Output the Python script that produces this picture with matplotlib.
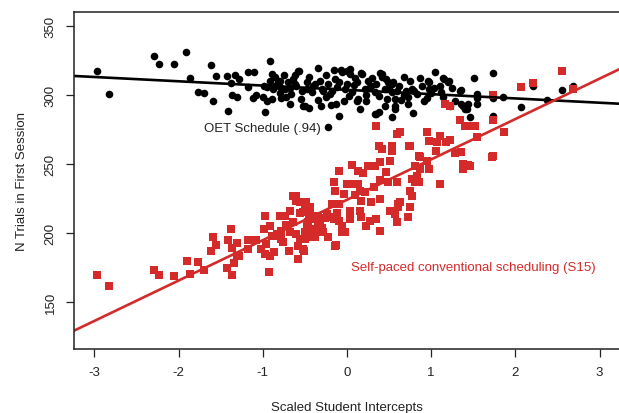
import numpy as np
import matplotlib
matplotlib.use("Agg")
import matplotlib.pyplot as plt

plt.rcParams['font.family'] = ['Liberation Sans', 'DejaVu Sans']

# ---- data ----
oet_x = [-2.97, -2.83, -2.29, -2.23, -2.06, -1.91, -1.87, -1.77, -1.70, -1.61, -1.59, -1.56,
         -1.41, -1.43, -1.38, -1.37, -1.31, -1.33, -1.28, -1.17, -1.10, -1.17, -1.12, -1.08,
         -0.97, -0.92, -0.89, -0.86, -0.99, -0.91, -0.86, -0.80, -0.95, -0.88, -0.80, -0.74,
         -0.95, -0.89, -0.78, -0.72, -0.58, -0.52, -0.68, -0.35, -0.16, -0.07, 0.04, 0.17,
         0.39, 0.46, 0.54, 0.75, 0.87, 0.96, 1.05, 1.15, 1.21, 1.35, 1.51, 1.74, 1.55, 1.73,
         1.85, 2.07, 2.21, 2.37, 2.55, 2.68, 1.46, 1.73, -0.09, -0.23, 0.35, 0.38, 0.53, 0.78,
         1.22, 1.38, 1.42, 1.54, 0.72, 0.95, 1.14, -0.50, -0.31, -0.19, -0.13, -0.03, 0.13,
         0.23, 0.48, 0.57, -0.57, -0.06, 0.00, 0.04, 0.18, 0.41, -0.70, -0.62, -0.48, -0.32,
         -0.22, -0.10, 0.12, 0.25, 0.35, 0.49, -0.66, -0.54, -0.42, -0.30, -0.18, -0.02, 0.06,
         0.21, 0.33, 0.45, 0.53, -0.68, -0.45, 0.12, 0.45, 0.33, 0.55, 0.59, 0.57, 0.57, 0.77,
         0.73, 0.89, 0.83, 0.91, 0.97, 0.97, 1.10, 1.14, 1.20, 1.12, 1.28, 1.34, 1.36, 1.40,
         1.44, 1.54, -0.62, -0.45, -0.25, -0.40, -0.12, 0.08, 0.28, 0.62, 0.68, 0.30, -0.55,
         -0.25, 0.02, 0.38, 0.68, -0.80, -1.00, -0.75, 1.00, 1.25, 0.15, -0.35,
         -0.64, -0.38, -0.14, 0.10, 0.26, 0.50, 0.80, -0.82, -0.47, -0.20, 0.22, 0.64, 1.03,
         -0.60, -0.28, 0.00, 0.42, 0.70]
oet_y = [317.4, 300.3, 328.2, 322.2, 322.2, 331.1, 312.1, 302.2, 301.2, 321.5, 295.4, 313.3,
         288.2, 313.3, 308.5, 300.0, 298.3, 314.5, 311.4, 316.2, 316.2, 305.4, 297.4, 300.0,
         287.3, 324.4, 315.0, 306.5, 306.5, 310.1, 312.6, 310.1, 305.4, 304.1, 305.4, 304.1,
         295.7, 296.9, 297.4, 298.1, 317.4, 292.0, 304.6, 319.3, 318.1, 317.6, 318.6, 315.7,
         315.7, 311.4, 307.7, 310.1, 311.9, 310.1, 316.6, 311.4, 309.7, 303.6, 312.1, 315.5,
         297.6, 297.6, 298.6, 291.3, 306.5, 296.4, 303.6, 306.1, 283.7, 284.4, 284.4, 276.4,
         286.0, 287.3, 283.7, 286.5, 292.0, 292.0, 289.7, 293.3, 293.3, 297.4, 298.1, 291.6,
         291.6, 292.6, 293.3, 295.7, 296.9, 295.7, 296.9, 292.0, 317.4, 316.2, 317.4, 315.0,
         315.0, 315.0, 309.0, 307.7, 309.0, 310.1, 307.7, 309.0, 309.0, 310.1, 307.7, 309.0,
         300.5, 302.9, 301.7, 304.1, 302.9, 304.1, 301.7, 304.1, 301.7, 304.1, 301.7, 293.3,
         290.5, 295.7, 292.0, 286.0, 309.0, 302.9, 296.9, 289.7, 304.1, 298.1, 306.5, 300.5,
         295.7, 309.4, 304.1, 306.5, 311.9, 309.4, 301.7, 295.7, 302.9, 293.3, 289.7, 293.3,
         300.5, 314.0, 313.0, 314.0, 306.0, 305.5, 307.0, 306.0, 306.0, 313.0, 312.0, 297.0,
         298.0, 299.0, 299.0, 300.0, 301.0, 298.0, 314.0, 301.0, 305.0, 290.0, 296.0,
         311.0, 308.0, 311.5, 312.0, 304.5, 305.5, 302.5, 309.0, 304.0, 300.5, 300.0, 296.0, 305.0,
         306.0, 303.0, 307.5, 313.0, 303.0]

sp_x = [-2.97, -2.83, -2.29, -2.23, -2.06, -1.90, -1.87, -1.77, -1.70, -1.61, -1.59, -1.56,
        -1.43, -1.41, -1.38, -1.37, -1.34, -1.36, -1.31, -1.28, -1.17, -1.17, -1.12, -1.08,
        -1.02, -0.99, -0.97, -0.96, -0.97, -0.93, -0.92, -0.91, -0.87, -0.85, -0.80, -0.78,
        -0.76, -0.78, -0.74, -0.69, -0.68, -0.68, -0.58, -0.58, -0.60, -0.56, -0.51, -0.50,
        -0.48, -0.44, -0.42, -0.38, -0.34, -0.61, -0.56, -0.49, -0.89, -0.83, -0.60, -0.56,
        -0.50, -1.31, 0.06, -0.09, 0.13, 0.19, 0.25, 0.33, 0.39, 0.51, 0.41, 0.53, 0.85,
        -0.16, -0.14, 0.00, 0.06, 0.13, 0.15, -0.04, 0.21, 0.39, 0.49, 0.59, 0.77, 0.81, 0.75,
        0.39, 0.29, 0.17, 0.15, 0.04, -0.10, -0.18, -0.50, -0.44, -0.34, -0.24, -0.18, -0.16,
        -0.10, 0.04, -0.06, 0.17, 0.27, 0.35, 0.23, 0.39, 0.51, 0.61, 0.63, 0.57, 0.75, 0.73,
        0.59, -0.46, -0.38, -0.32, -0.28, -0.40, -0.52, -0.14, -0.06, -0.02, -0.38, 1.16,
        1.22, 1.34, 1.40, 1.48, 1.52, 1.74, 1.86, 1.73, 0.95, 1.10, 0.97, 1.07, 1.18, 1.22,
        1.54, 0.75, 1.06, 1.28, 1.36, 0.87, 0.95, 1.38, 1.44, 1.38, 1.72, 0.81, 0.87, 0.97,
        0.83, 0.85, 1.10, 0.77, 0.63, 0.34, 0.59, 0.38, 0.53, 0.74, 2.07, 2.21, 2.55, 2.68,
        1.73, 1.46, -0.52, -0.13, 0.61, -0.64,
        -0.30, -0.22, -0.26, -0.12, -0.45, -0.64, -0.72, 0.10, 0.32, 0.46]
sp_y = [169.8, 161.7, 173.0, 169.6, 168.9, 179.8, 170.1, 179.0, 173.0, 186.8, 197.1, 191.3,
        174.9, 194.7, 202.9, 188.9, 178.3, 169.8, 192.8, 183.2, 188.4, 194.7, 195.2, 194.7,
        188.4, 202.9, 212.1, 191.8, 184.8, 172.0, 204.8, 183.6, 186.0, 198.0, 212.1, 195.7,
        193.3, 201.7, 212.5, 187.2, 200.5, 216.1, 181.2, 190.8, 223.4, 214.5, 187.2, 195.7,
        205.3, 218.6, 201.7, 196.9, 208.9, 226.5, 222.6, 222.6, 198.0, 199.3, 199.3, 195.7,
        200.5, 183.2, 249.4, 245.0, 245.0, 243.4, 248.2, 248.2, 251.1, 252.3, 260.7, 259.5,
        255.9, 236.7, 230.6, 235.4, 235.4, 235.4, 230.6, 228.2, 229.4, 238.5, 236.7, 236.7,
        239.1, 236.7, 230.6, 224.6, 222.2, 223.4, 216.1, 216.1, 221.0, 221.0, 217.4, 213.7,
        212.5, 213.7, 211.7, 210.1, 208.9, 210.1, 205.3, 211.4, 208.9, 210.1, 205.3, 201.7,
        216.1, 218.6, 222.2, 214.0, 218.6, 211.4, 207.7, 207.7, 202.9, 206.5, 200.5, 196.9,
        188.4, 190.8, 200.5, 200.5, 210.0, 293.3, 292.0, 281.9, 277.2, 277.2, 277.2, 281.9,
        273.2, 299.8, 273.2, 270.4, 266.7, 265.6, 265.6, 267.5, 269.2, 263.1, 259.5, 257.8,
        258.4, 254.7, 252.3, 249.9, 249.2, 246.3, 254.7, 248.7, 246.3, 246.3, 241.4, 236.7,
        235.4, 227.0, 272.8, 277.2, 271.6, 262.7, 263.1, 263.1, 305.4, 308.2, 317.4, 304.1,
        255.5, 248.7, 215.0, 191.3, 221.0, 227.0,
        203.5, 197.0, 210.5, 214.5, 210.5, 208.0, 205.5, 227.5, 233.0, 244.0]

oet_fit = (-3.1, 303.5)     # slope, intercept
sp_fit = (29.2, 224.0)

x_ticks = [-3, -2, -1, 0, 1, 2, 3]
y_ticks = [150, 200, 250, 300, 350]

RED = '#d42a2a'
INK = '#222222'

fig = plt.figure(figsize=(6.19, 4.14), dpi=100)
ax = fig.add_axes([74/619, 64/414, (632-74)/619, 337/414])
xlim = (-3.242, 3.385)
ax.set_xlim(*xlim)
ax.set_ylim(116.1, 359.8)

ax.scatter(oet_x, oet_y, s=30, c='black', marker='o', linewidths=0, zorder=2)
xx = np.array(xlim)
ax.plot(xx, oet_fit[0]*xx + oet_fit[1], color='black', lw=1.9, zorder=3)
ax.scatter(sp_x, sp_y, s=30, c=RED, marker='s', linewidths=0, zorder=2)
ax.plot(xx, sp_fit[0]*xx + sp_fit[1], color=RED, lw=1.9, zorder=3)

ax.set_xticks(x_ticks)
ax.set_xticklabels([str(v) if v >= 0 else '-' + str(-v) for v in x_ticks])
ax.set_yticks(y_ticks)
ax.set_yticklabels([str(v) for v in y_ticks], rotation=90, va='center')
ax.tick_params(direction='out', length=5.5, width=0.9, labelsize=9.5, pad=7, colors=INK)
for s in ax.spines.values():
    s.set_visible(True)
    s.set_linewidth(1.1)
    s.set_color(INK)
    s.set_zorder(5)

ax.set_xlabel('Scaled Student Intercepts', fontsize=9.5, labelpad=11, color=INK)
ax.set_ylabel('N Trials in First Session', fontsize=9.5, labelpad=12, color=INK)
ax.xaxis.set_label_coords((347-74)/(632-74), -0.155)

ax.text(-1.0, 276.0, 'OET Schedule (.94)', fontsize=9.5, ha='center', va='center', color=INK)
ax.text(1.50, 175.4, 'Self-paced conventional scheduling (S15)', fontsize=9.5,
        ha='center', va='center', color=RED)

fig.savefig('out.png', dpi=100)
